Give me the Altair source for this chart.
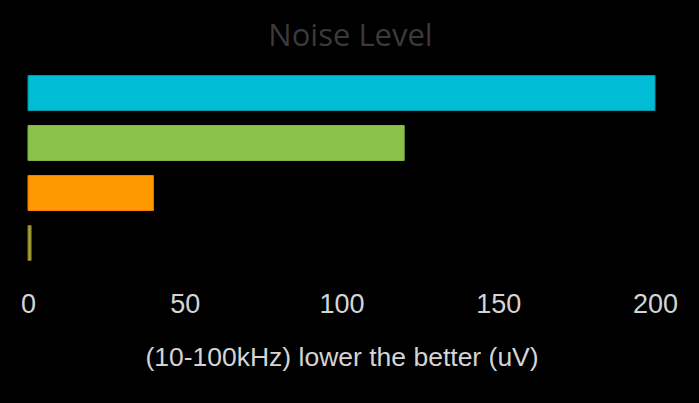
import altair as alt
import pandas as pd

categories = ["A", "B", "C", "D"]
values = [200, 120, 40, 1]
colors = ["#00BCD4", "#8BC34A", "#FF9800", "#A8A035"]
strokes = ["#0097A7", "#7CB342", "#F57C00", "#7A7420"]

df = pd.DataFrame({"cat": categories, "val": values, "col": colors, "stroke": strokes})

chart = alt.Chart(df).mark_bar(strokeWidth=1).encode(
    y=alt.Y("cat:N", sort=categories, axis=None,
            scale=alt.Scale(paddingInner=0.3, paddingOuter=0.15)),
    x=alt.X("val:Q", scale=alt.Scale(domain=[0, 200], nice=False),
            axis=alt.Axis(values=[0, 50, 100, 150, 200], grid=False, domain=False,
                          ticks=False, labelPadding=23, labelFontSize=27,
                          labelFont="Liberation Sans", labelColor="#d4d4d4",
                          labelFlush=False,
                          title="(10-100kHz) lower the better (uV)",
                          titleFont="Liberation Sans", titleFontSize=26.5,
                          titleFontWeight="normal", titleColor="#d4d4d4",
                          titlePadding=27)),
    color=alt.Color("col:N", scale=None),
    stroke=alt.Stroke("stroke:N", scale=None),
).properties(
    width=627, height=200,
    title=alt.TitleParams("Noise Level", font="Open Sans", fontSize=31,
                          fontWeight="normal", color="#3a3a3a",
                          anchor="middle", dx=9, offset=15),
    background="#000000",
    padding={"left": 28, "top": 68, "right": 44, "bottom": 135},
    autosize=alt.AutoSizeParams(type="none"),
).configure_view(stroke=None)

chart.save("out.html", embed_options={"renderer": "svg", "actions": False})
